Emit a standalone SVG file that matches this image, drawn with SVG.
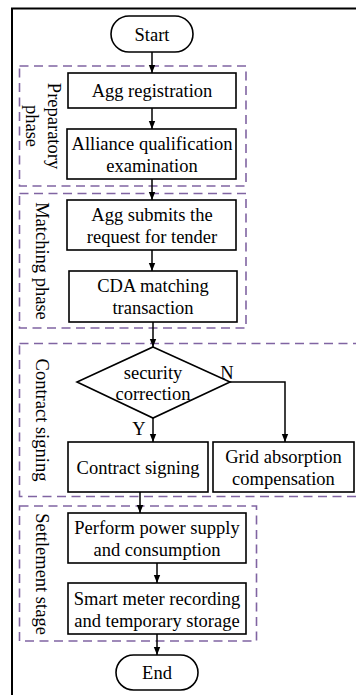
<svg xmlns="http://www.w3.org/2000/svg" width="356" height="695" viewBox="0 0 356 695">
<defs>
<marker id="arr" viewBox="0 0 8 8" refX="8" refY="4" markerWidth="8" markerHeight="8" markerUnits="userSpaceOnUse" orient="auto">
<path d="M0,0.8 L8,4 L0,7.2 Z" fill="#000"/>
</marker>
<style>
text{font-family:"Liberation Serif","Times New Roman",serif;font-size:18.5px;fill:#000;text-anchor:middle}
.box{fill:#fff;stroke:#000;stroke-width:1.6}
.phase{fill:none;stroke:#8064a2;stroke-width:1.6;stroke-dasharray:9 5.5}
.edge{fill:none;stroke:#000;stroke-width:1.5}
.arr{marker-end:url(#arr)}
</style>
</defs>
<rect x="0" y="0" width="356" height="695" fill="#fff"/>
<rect x="12" y="8.5" width="360" height="700" fill="none" stroke="#000" stroke-width="2"/>

<g id="phases">
<g id="phase-preparatory">
<rect class="phase" x="19.5" y="66" width="226.5" height="120"/>
<text transform="translate(48,126) rotate(90)">Preparatory</text>
<text transform="translate(26,126) rotate(90)">phase</text>
</g>
<g id="phase-matching">
<rect class="phase" x="19.5" y="193.5" width="226.5" height="134.5"/>
<text transform="translate(36,261) rotate(90)">Matching phase</text>
</g>
<g id="phase-contract">
<rect class="phase" x="19.5" y="343.5" width="360" height="153"/>
<text transform="translate(36,420) rotate(90)">Contract signing</text>
</g>
<g id="phase-settlement">
<rect class="phase" x="19.5" y="506" width="237" height="135"/>
<text transform="translate(36,574) rotate(90)">Settlement stage</text>
</g>
</g>

<g id="connectors">
<line class="edge arr" x1="152" y1="52" x2="152" y2="73"/>
<line class="edge arr" x1="152" y1="108" x2="152" y2="129"/>
<line class="edge arr" x1="152" y1="179" x2="152" y2="200"/>
<line class="edge arr" x1="152" y1="250" x2="152" y2="271"/>
<line class="edge arr" x1="153" y1="322" x2="153" y2="347"/>
<line class="edge arr" x1="153" y1="418" x2="153" y2="442"/>
<polyline class="edge arr" points="230,382 285,382 285,442"/>
<line class="edge arr" x1="140" y1="492" x2="140" y2="513"/>
<line class="edge arr" x1="157" y1="563" x2="157" y2="583"/>
<line class="edge arr" x1="157" y1="634" x2="157" y2="655"/>
<text x="227" y="379">N</text>
<text x="139" y="435">Y</text>
</g>

<g id="start">
<rect class="box" x="111" y="16" width="82" height="36" rx="18"/>
<text x="152" y="41">Start</text>
</g>
<g id="agg-registration">
<rect class="box" x="68" y="73" width="168" height="35"/>
<text x="152" y="97">Agg registration</text>
</g>
<g id="alliance-qualification">
<rect class="box" x="67" y="129" width="169" height="50"/>
<text x="152" y="150">Alliance qualification</text>
<text x="152" y="172">examination</text>
</g>
<g id="agg-submits">
<rect class="box" x="67" y="200" width="169" height="50"/>
<text x="152" y="221">Agg submits the</text>
<text x="152" y="243">request for tender</text>
</g>
<g id="cda-matching">
<rect class="box" x="69" y="271" width="168" height="51"/>
<text x="153" y="292">CDA matching</text>
<text x="153" y="314">transaction</text>
</g>
<g id="security-correction">
<polygon class="box" points="153,347 230,382 153,418 77,382"/>
<text x="153" y="379">security</text>
<text x="153" y="400">correction</text>
</g>
<g id="contract-signing">
<rect class="box" x="68" y="442" width="140" height="50"/>
<text x="138" y="474">Contract signing</text>
</g>
<g id="grid-absorption">
<rect class="box" x="213" y="442" width="141" height="50"/>
<text x="283.5" y="463">Grid absorption</text>
<text x="283.5" y="485">compensation</text>
</g>
<g id="perform-power">
<rect class="box" x="68" y="513" width="178" height="50"/>
<text x="157" y="534">Perform power supply</text>
<text x="157" y="556">and consumption</text>
</g>
<g id="smart-meter">
<rect class="box" x="68" y="583" width="178" height="51"/>
<text x="157" y="605">Smart meter recording</text>
<text x="157" y="627">and temporary storage</text>
</g>
<g id="end">
<rect class="box" x="116" y="655" width="82" height="35" rx="17.5"/>
<text x="157" y="679">End</text>
</g>
</svg>
